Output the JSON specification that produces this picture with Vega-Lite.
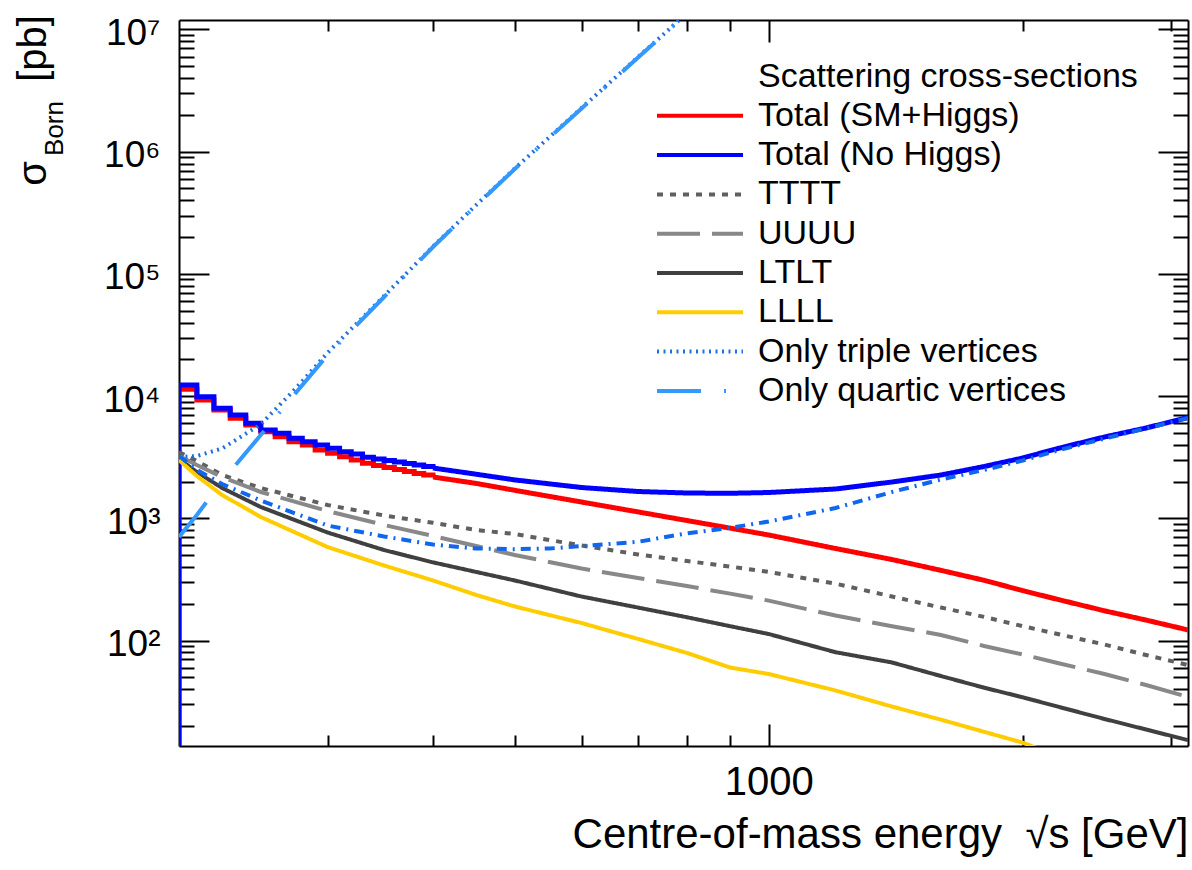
{
  "$schema": "https://vega.github.io/schema/vega-lite/v6.json",
  "width": 1009,
  "height": 726,
  "autosize": {"type": "none"},
  "padding": {"left": 179, "top": 20, "right": 4, "bottom": 124},
  "background": "white",
  "config": {
    "view": {"stroke": null},
    "font": "Liberation Sans",
    "axis": {"grid": false, "domainColor": "black", "domainWidth": 2, "tickColor": "black", "tickWidth": 2, "labelColor": "black", "titleColor": "black", "labelFont": "Liberation Sans", "titleFont": "Liberation Sans", "titleFontWeight": "normal", "labelFlush": false, "labelOverlap": false, "labelBound": false}
  },
  "datasets": {
    "steps": [
      {"series": "Total (SM+Higgs)", "E": 200, "sigma": 1},
      {"series": "Total (SM+Higgs)", "E": 200, "sigma": 11365},
      {"series": "Total (SM+Higgs)", "E": 210, "sigma": 9292},
      {"series": "Total (SM+Higgs)", "E": 220, "sigma": 7696},
      {"series": "Total (SM+Higgs)", "E": 230, "sigma": 6580},
      {"series": "Total (SM+Higgs)", "E": 240, "sigma": 5800},
      {"series": "Total (SM+Higgs)", "E": 250, "sigma": 5112},
      {"series": "Total (SM+Higgs)", "E": 260, "sigma": 4653},
      {"series": "Total (SM+Higgs)", "E": 270, "sigma": 4234},
      {"series": "Total (SM+Higgs)", "E": 280, "sigma": 3979},
      {"series": "Total (SM+Higgs)", "E": 290, "sigma": 3622},
      {"series": "Total (SM+Higgs)", "E": 300, "sigma": 3403},
      {"series": "Total (SM+Higgs)", "E": 310, "sigma": 3192},
      {"series": "Total (SM+Higgs)", "E": 320, "sigma": 3000},
      {"series": "Total (SM+Higgs)", "E": 330, "sigma": 2819},
      {"series": "Total (SM+Higgs)", "E": 340, "sigma": 2705},
      {"series": "Total (SM+Higgs)", "E": 350, "sigma": 2604},
      {"series": "Total (SM+Higgs)", "E": 360, "sigma": 2508},
      {"series": "Total (SM+Higgs)", "E": 370, "sigma": 2415},
      {"series": "Total (SM+Higgs)", "E": 380, "sigma": 2326},
      {"series": "Total (SM+Higgs)", "E": 390, "sigma": 2261},
      {"series": "Total (SM+Higgs)", "E": 400, "sigma": 2178},
      {"series": "Total (No Higgs)", "E": 200, "sigma": 1},
      {"series": "Total (No Higgs)", "E": 200, "sigma": 12324},
      {"series": "Total (No Higgs)", "E": 210, "sigma": 9888},
      {"series": "Total (No Higgs)", "E": 220, "sigma": 7946},
      {"series": "Total (No Higgs)", "E": 230, "sigma": 7004},
      {"series": "Total (No Higgs)", "E": 240, "sigma": 5989},
      {"series": "Total (No Higgs)", "E": 250, "sigma": 5280},
      {"series": "Total (No Higgs)", "E": 260, "sigma": 4961},
      {"series": "Total (No Higgs)", "E": 270, "sigma": 4515},
      {"series": "Total (No Higgs)", "E": 280, "sigma": 4234},
      {"series": "Total (No Higgs)", "E": 290, "sigma": 3979},
      {"series": "Total (No Higgs)", "E": 300, "sigma": 3740},
      {"series": "Total (No Higgs)", "E": 310, "sigma": 3508},
      {"series": "Total (No Higgs)", "E": 320, "sigma": 3359},
      {"series": "Total (No Higgs)", "E": 330, "sigma": 3157},
      {"series": "Total (No Higgs)", "E": 340, "sigma": 3057},
      {"series": "Total (No Higgs)", "E": 350, "sigma": 2972},
      {"series": "Total (No Higgs)", "E": 360, "sigma": 2888},
      {"series": "Total (No Higgs)", "E": 370, "sigma": 2808},
      {"series": "Total (No Higgs)", "E": 380, "sigma": 2731},
      {"series": "Total (No Higgs)", "E": 390, "sigma": 2654},
      {"series": "Total (No Higgs)", "E": 400, "sigma": 2580}
    ],
    "tails": [
      {"series": "Total (SM+Higgs)", "E": 400, "sigma": 2178},
      {"series": "Total (SM+Higgs)", "E": 450, "sigma": 1930},
      {"series": "Total (SM+Higgs)", "E": 500, "sigma": 1695},
      {"series": "Total (SM+Higgs)", "E": 600, "sigma": 1359},
      {"series": "Total (SM+Higgs)", "E": 700, "sigma": 1128},
      {"series": "Total (SM+Higgs)", "E": 800, "sigma": 959},
      {"series": "Total (SM+Higgs)", "E": 900, "sigma": 831},
      {"series": "Total (SM+Higgs)", "E": 1000, "sigma": 730},
      {"series": "Total (SM+Higgs)", "E": 1200, "sigma": 566},
      {"series": "Total (SM+Higgs)", "E": 1400, "sigma": 460},
      {"series": "Total (SM+Higgs)", "E": 1600, "sigma": 375},
      {"series": "Total (SM+Higgs)", "E": 1800, "sigma": 311},
      {"series": "Total (SM+Higgs)", "E": 2000, "sigma": 256},
      {"series": "Total (SM+Higgs)", "E": 2200, "sigma": 217},
      {"series": "Total (SM+Higgs)", "E": 2500, "sigma": 175},
      {"series": "Total (SM+Higgs)", "E": 2800, "sigma": 147},
      {"series": "Total (SM+Higgs)", "E": 3140, "sigma": 122},
      {"series": "Total (No Higgs)", "E": 400, "sigma": 2580},
      {"series": "Total (No Higgs)", "E": 450, "sigma": 2295},
      {"series": "Total (No Higgs)", "E": 500, "sigma": 2062},
      {"series": "Total (No Higgs)", "E": 600, "sigma": 1786},
      {"series": "Total (No Higgs)", "E": 700, "sigma": 1657},
      {"series": "Total (No Higgs)", "E": 800, "sigma": 1611},
      {"series": "Total (No Higgs)", "E": 900, "sigma": 1602},
      {"series": "Total (No Higgs)", "E": 1000, "sigma": 1626},
      {"series": "Total (No Higgs)", "E": 1200, "sigma": 1737},
      {"series": "Total (No Higgs)", "E": 1400, "sigma": 1982},
      {"series": "Total (No Higgs)", "E": 1600, "sigma": 2261},
      {"series": "Total (No Higgs)", "E": 1800, "sigma": 2654},
      {"series": "Total (No Higgs)", "E": 2000, "sigma": 3115},
      {"series": "Total (No Higgs)", "E": 2200, "sigma": 3726},
      {"series": "Total (No Higgs)", "E": 2500, "sigma": 4627},
      {"series": "Total (No Higgs)", "E": 2800, "sigma": 5483},
      {"series": "Total (No Higgs)", "E": 3140, "sigma": 6681}
    ],
    "curves": [
      {"series": "TTTT", "E": 200, "sigma": 3488},
      {"series": "TTTT", "E": 210, "sigma": 2943},
      {"series": "TTTT", "E": 225, "sigma": 2261},
      {"series": "TTTT", "E": 250, "sigma": 1770},
      {"series": "TTTT", "E": 300, "sigma": 1285},
      {"series": "TTTT", "E": 350, "sigma": 1054},
      {"series": "TTTT", "E": 400, "sigma": 919},
      {"series": "TTTT", "E": 450, "sigma": 802},
      {"series": "TTTT", "E": 500, "sigma": 744},
      {"series": "TTTT", "E": 600, "sigma": 599},
      {"series": "TTTT", "E": 700, "sigma": 506},
      {"series": "TTTT", "E": 800, "sigma": 447},
      {"series": "TTTT", "E": 900, "sigma": 403},
      {"series": "TTTT", "E": 1000, "sigma": 364},
      {"series": "TTTT", "E": 1200, "sigma": 292},
      {"series": "TTTT", "E": 1400, "sigma": 229},
      {"series": "TTTT", "E": 1600, "sigma": 186},
      {"series": "TTTT", "E": 1800, "sigma": 156},
      {"series": "TTTT", "E": 2000, "sigma": 131},
      {"series": "TTTT", "E": 2200, "sigma": 113},
      {"series": "TTTT", "E": 2500, "sigma": 92.7},
      {"series": "TTTT", "E": 2800, "sigma": 76.1},
      {"series": "TTTT", "E": 3140, "sigma": 63},
      {"series": "UUUU", "E": 200, "sigma": 3235},
      {"series": "UUUU", "E": 210, "sigma": 2731},
      {"series": "UUUU", "E": 225, "sigma": 2178},
      {"series": "UUUU", "E": 250, "sigma": 1642},
      {"series": "UUUU", "E": 300, "sigma": 1147},
      {"series": "UUUU", "E": 350, "sigma": 882},
      {"series": "UUUU", "E": 400, "sigma": 717},
      {"series": "UUUU", "E": 450, "sigma": 593},
      {"series": "UUUU", "E": 500, "sigma": 501},
      {"series": "UUUU", "E": 600, "sigma": 388},
      {"series": "UUUU", "E": 700, "sigma": 325},
      {"series": "UUUU", "E": 800, "sigma": 279},
      {"series": "UUUU", "E": 900, "sigma": 242},
      {"series": "UUUU", "E": 1000, "sigma": 212},
      {"series": "UUUU", "E": 1200, "sigma": 160},
      {"series": "UUUU", "E": 1400, "sigma": 131},
      {"series": "UUUU", "E": 1600, "sigma": 111},
      {"series": "UUUU", "E": 1800, "sigma": 90.2},
      {"series": "UUUU", "E": 2000, "sigma": 76.8},
      {"series": "UUUU", "E": 2200, "sigma": 65.4},
      {"series": "UUUU", "E": 2500, "sigma": 53.2},
      {"series": "UUUU", "E": 2800, "sigma": 43.2},
      {"series": "UUUU", "E": 3140, "sigma": 34.5},
      {"series": "LTLT", "E": 200, "sigma": 3057},
      {"series": "LTLT", "E": 210, "sigma": 2392},
      {"series": "LTLT", "E": 225, "sigma": 1770},
      {"series": "LTLT", "E": 250, "sigma": 1237},
      {"series": "LTLT", "E": 300, "sigma": 765},
      {"series": "LTLT", "E": 350, "sigma": 550},
      {"series": "LTLT", "E": 400, "sigma": 436},
      {"series": "LTLT", "E": 450, "sigma": 364},
      {"series": "LTLT", "E": 500, "sigma": 310},
      {"series": "LTLT", "E": 600, "sigma": 229},
      {"series": "LTLT", "E": 700, "sigma": 186},
      {"series": "LTLT", "E": 800, "sigma": 155},
      {"series": "LTLT", "E": 900, "sigma": 131},
      {"series": "LTLT", "E": 1000, "sigma": 113},
      {"series": "LTLT", "E": 1200, "sigma": 80.2},
      {"series": "LTLT", "E": 1400, "sigma": 66.1},
      {"series": "LTLT", "E": 1600, "sigma": 51.2},
      {"series": "LTLT", "E": 1800, "sigma": 41.1},
      {"series": "LTLT", "E": 2000, "sigma": 34.3},
      {"series": "LTLT", "E": 2200, "sigma": 28.8},
      {"series": "LTLT", "E": 2500, "sigma": 22.8},
      {"series": "LTLT", "E": 2800, "sigma": 18.7},
      {"series": "LTLT", "E": 3140, "sigma": 15.3},
      {"series": "LLLL", "E": 200, "sigma": 3000},
      {"series": "LLLL", "E": 210, "sigma": 2219},
      {"series": "LLLL", "E": 225, "sigma": 1551},
      {"series": "LLLL", "E": 250, "sigma": 1025},
      {"series": "LLLL", "E": 300, "sigma": 582},
      {"series": "LLLL", "E": 350, "sigma": 411},
      {"series": "LLLL", "E": 400, "sigma": 310},
      {"series": "LLLL", "E": 450, "sigma": 236},
      {"series": "LLLL", "E": 500, "sigma": 190},
      {"series": "LLLL", "E": 600, "sigma": 139},
      {"series": "LLLL", "E": 700, "sigma": 103},
      {"series": "LLLL", "E": 800, "sigma": 79.1},
      {"series": "LLLL", "E": 900, "sigma": 60.1},
      {"series": "LLLL", "E": 1000, "sigma": 53.2},
      {"series": "LLLL", "E": 1200, "sigma": 39.0},
      {"series": "LLLL", "E": 1400, "sigma": 28.8},
      {"series": "LLLL", "E": 1600, "sigma": 22.5},
      {"series": "LLLL", "E": 1800, "sigma": 17.9},
      {"series": "LLLL", "E": 2000, "sigma": 14.6},
      {"series": "LLLL", "E": 2200, "sigma": 11.3},
      {"series": "Only triple vertices", "E": 200, "sigma": 3174},
      {"series": "Only triple vertices", "E": 210, "sigma": 3235},
      {"series": "Only triple vertices", "E": 225, "sigma": 3726},
      {"series": "Only triple vertices", "E": 250, "sigma": 5877},
      {"series": "Only triple vertices", "E": 275, "sigma": 11540},
      {"series": "Only triple vertices", "E": 300, "sigma": 22620},
      {"series": "Only triple vertices", "E": 350, "sigma": 65940},
      {"series": "Only triple vertices", "E": 400, "sigma": 167600},
      {"series": "Only triple vertices", "E": 450, "sigma": 366200},
      {"series": "Only triple vertices", "E": 500, "sigma": 728700},
      {"series": "Only triple vertices", "E": 600, "sigma": 2278000},
      {"series": "Only triple vertices", "E": 700, "sigma": 5957000},
      {"series": "Only triple vertices", "E": 750, "sigma": 9101000},
      {"series": "Only triple vertices", "E": 800, "sigma": 13650000},
      {"series": "Only quartic vertices", "E": 200, "sigma": 703},
      {"series": "Only quartic vertices", "E": 210, "sigma": 1064},
      {"series": "Only quartic vertices", "E": 225, "sigma": 2020},
      {"series": "Only quartic vertices", "E": 250, "sigma": 4805},
      {"series": "Only quartic vertices", "E": 275, "sigma": 10600},
      {"series": "Only quartic vertices", "E": 300, "sigma": 21700},
      {"series": "Only quartic vertices", "E": 350, "sigma": 64710},
      {"series": "Only quartic vertices", "E": 400, "sigma": 166000},
      {"series": "Only quartic vertices", "E": 450, "sigma": 362800},
      {"series": "Only quartic vertices", "E": 500, "sigma": 721800},
      {"series": "Only quartic vertices", "E": 600, "sigma": 2257000},
      {"series": "Only quartic vertices", "E": 700, "sigma": 5902000},
      {"series": "Only quartic vertices", "E": 750, "sigma": 9016000},
      {"series": "Only quartic vertices", "E": 800, "sigma": 13520000}
    ],
    "dashdot": [
      {"E": 200, "sigma": 3235},
      {"E": 210, "sigma": 2485},
      {"E": 225, "sigma": 1909},
      {"E": 250, "sigma": 1399},
      {"E": 300, "sigma": 873},
      {"E": 350, "sigma": 710},
      {"E": 400, "sigma": 610},
      {"E": 450, "sigma": 566},
      {"E": 500, "sigma": 559},
      {"E": 550, "sigma": 566},
      {"E": 600, "sigma": 593},
      {"E": 700, "sigma": 642},
      {"E": 800, "sigma": 754},
      {"E": 900, "sigma": 836},
      {"E": 1000, "sigma": 941},
      {"E": 1200, "sigma": 1214},
      {"E": 1400, "sigma": 1642},
      {"E": 1600, "sigma": 2077},
      {"E": 1800, "sigma": 2485},
      {"E": 2000, "sigma": 2972},
      {"E": 2200, "sigma": 3587},
      {"E": 2500, "sigma": 4498},
      {"E": 2800, "sigma": 5431},
      {"E": 3140, "sigma": 6618}
    ]
  },
  "resolve": {"axis": {"x": "independent", "y": "independent"}},
  "layer": [
    {
      "data": {"name": "steps"},
      "mark": {"type": "line", "interpolate": "step-after", "strokeWidth": 5, "clip": true, "strokeJoin": "miter"},
      "encoding": {
        "x": {"field": "E", "type": "quantitative", "scale": {"type": "log", "domain": [200, 3140], "nice": false},
          "axis": {"orient": "bottom", "values": [1000], "format": "d", "tickSize": -22, "labelPadding": 70, "labelBaseline": "alphabetic", "labelFontSize": 40, "domain": true,
            "title": "Centre-of-mass energy\u00a0 √s [GeV]", "titleFontSize": 42, "titleX": 1009, "titleY": 101, "titleAlign": "right", "titleBaseline": "alphabetic", "titleAngle": 0}},
        "y": {"field": "sigma", "type": "quantitative", "scale": {"type": "log", "domain": [13.7, 11960000], "nice": false},
          "axis": {"orient": "left", "values": [100, 1000, 10000, 100000, 1000000, 10000000], "tickSize": -30, "labelPadding": 49, "labelFontSize": 37, "labelBaseline": "middle", "labelOffset": 4,
            "labelExpr": "'10' + ['','','²','³','⁴','⁵','⁶','⁷'][round(log(datum.value)/LN10)]", "domain": true,
            "title": "σ", "titleFontSize": 40, "titleAngle": 270, "titleX": -134, "titleY": 153, "titleAlign": "center", "titleBaseline": "alphabetic"}},
        "color": {"field": "series", "type": "nominal",
          "scale": {"domain": ["Scattering cross-sections", "Total (SM+Higgs)", "Total (No Higgs)", "TTTT", "UUUU", "LTLT", "LLLL", "Only triple vertices", "Only quartic vertices"],
                    "range": ["transparent", "#ff0000", "#0000ff", "#606060", "#888888", "#404040", "#ffcc00", "#1f6fe0", "#3399ff"]},
          "legend": {"title": null, "orient": "none", "legendX": 476, "legendY": 38, "direction": "vertical", "symbolType": "stroke", "symbolSize": 7396, "symbolStrokeWidth": 4, "clipHeight": 37, "rowPadding": 2.3, "labelFont": "Liberation Sans", "labelFontSize": 34, "labelColor": "black", "labelOffset": 13, "symbolOffset": 0, "labelLimit": 0, "padding": 0, "offset": 0}},
        "strokeDash": {"field": "series", "type": "nominal",
          "scale": {"domain": ["Scattering cross-sections", "Total (SM+Higgs)", "Total (No Higgs)", "TTTT", "UUUU", "LTLT", "LLLL", "Only triple vertices", "Only quartic vertices"],
                    "range": [[0, 1000], [1, 0], [1, 0], [6, 7], [43, 12], [1, 0], [1, 0], [2, 4.5], [44, 23, 2, 23]]},
          "legend": {"title": null, "orient": "none", "legendX": 476, "legendY": 38, "direction": "vertical", "symbolType": "stroke", "symbolSize": 7396, "symbolStrokeWidth": 4, "clipHeight": 37, "rowPadding": 2.3, "labelFont": "Liberation Sans", "labelFontSize": 34, "labelColor": "black", "labelOffset": 13, "symbolOffset": 0, "labelLimit": 0, "padding": 0, "offset": 0}}
      }
    },
    {
      "data": {"name": "tails"},
      "mark": {"type": "line", "strokeWidth": 5, "clip": true},
      "encoding": {
        "x": {"field": "E", "type": "quantitative", "scale": {"type": "log", "domain": [200, 3140], "nice": false},
          "axis": {"orient": "bottom", "values": [300, 400, 500, 600, 700, 800, 900, 2000, 3000], "tickSize": -11, "labels": false, "domain": false, "title": null}},
        "y": {"field": "sigma", "type": "quantitative", "scale": {"type": "log", "domain": [13.7, 11960000], "nice": false},
          "axis": {"orient": "left", "values": [20, 30, 40, 50, 60, 70, 80, 90, 200, 300, 400, 500, 600, 700, 800, 900, 2000, 3000, 4000, 5000, 6000, 7000, 8000, 9000, 20000, 30000, 40000, 50000, 60000, 70000, 80000, 90000, 200000, 300000, 400000, 500000, 600000, 700000, 800000, 900000, 2000000, 3000000, 4000000, 5000000, 6000000, 7000000, 8000000, 9000000],
            "tickSize": -15, "labels": false, "domain": false,
            "title": "Born", "titleFontSize": 26, "titleAngle": 270, "titleX": -117, "titleY": 108, "titleAlign": "center", "titleBaseline": "alphabetic"}},
        "color": {"field": "series", "type": "nominal",
          "scale": {"domain": ["Scattering cross-sections", "Total (SM+Higgs)", "Total (No Higgs)", "TTTT", "UUUU", "LTLT", "LLLL", "Only triple vertices", "Only quartic vertices"],
                    "range": ["transparent", "#ff0000", "#0000ff", "#606060", "#888888", "#404040", "#ffcc00", "#1f6fe0", "#3399ff"]},
          "legend": {"title": null, "orient": "none", "legendX": 476, "legendY": 38, "direction": "vertical", "symbolType": "stroke", "symbolSize": 7396, "symbolStrokeWidth": 4, "clipHeight": 37, "rowPadding": 2.3, "labelFont": "Liberation Sans", "labelFontSize": 34, "labelColor": "black", "labelOffset": 13, "symbolOffset": 0, "labelLimit": 0, "padding": 0, "offset": 0}},
        "strokeDash": {"field": "series", "type": "nominal",
          "scale": {"domain": ["Scattering cross-sections", "Total (SM+Higgs)", "Total (No Higgs)", "TTTT", "UUUU", "LTLT", "LLLL", "Only triple vertices", "Only quartic vertices"],
                    "range": [[0, 1000], [1, 0], [1, 0], [6, 7], [43, 12], [1, 0], [1, 0], [2, 4.5], [44, 23, 2, 23]]},
          "legend": {"title": null, "orient": "none", "legendX": 476, "legendY": 38, "direction": "vertical", "symbolType": "stroke", "symbolSize": 7396, "symbolStrokeWidth": 4, "clipHeight": 37, "rowPadding": 2.3, "labelFont": "Liberation Sans", "labelFontSize": 34, "labelColor": "black", "labelOffset": 13, "symbolOffset": 0, "labelLimit": 0, "padding": 0, "offset": 0}}
      }
    },
    {
      "data": {"name": "curves"},
      "mark": {"type": "line", "strokeWidth": 4, "clip": true},
      "encoding": {
        "x": {"field": "E", "type": "quantitative", "scale": {"type": "log", "domain": [200, 3140], "nice": false},
          "axis": {"orient": "top", "values": [1000], "tickSize": -22, "labels": false, "domain": true, "title": null}},
        "y": {"field": "sigma", "type": "quantitative", "scale": {"type": "log", "domain": [13.7, 11960000], "nice": false},
          "axis": {"orient": "right", "values": [100, 1000, 10000, 100000, 1000000, 10000000], "tickSize": -30, "labels": false, "domain": true,
            "title": "[pb]", "titleFontSize": 40, "titleAngle": 270, "titleX": -1143, "titleY": 28, "titleAlign": "center", "titleBaseline": "alphabetic"}},
        "color": {"field": "series", "type": "nominal",
          "scale": {"domain": ["Scattering cross-sections", "Total (SM+Higgs)", "Total (No Higgs)", "TTTT", "UUUU", "LTLT", "LLLL", "Only triple vertices", "Only quartic vertices"],
                    "range": ["transparent", "#ff0000", "#0000ff", "#606060", "#888888", "#404040", "#ffcc00", "#1f6fe0", "#3399ff"]},
          "legend": {"title": null, "orient": "none", "legendX": 476, "legendY": 38, "direction": "vertical", "symbolType": "stroke", "symbolSize": 7396, "symbolStrokeWidth": 4, "clipHeight": 37, "rowPadding": 2.3, "labelFont": "Liberation Sans", "labelFontSize": 34, "labelColor": "black", "labelOffset": 13, "symbolOffset": 0, "labelLimit": 0, "padding": 0, "offset": 0}},
        "strokeDash": {"field": "series", "type": "nominal",
          "scale": {"domain": ["Scattering cross-sections", "Total (SM+Higgs)", "Total (No Higgs)", "TTTT", "UUUU", "LTLT", "LLLL", "Only triple vertices", "Only quartic vertices"],
                    "range": [[0, 1000], [1, 0], [1, 0], [6, 7], [43, 12], [1, 0], [1, 0], [2, 4.5], [44, 23, 2, 23]]},
          "legend": {"title": null, "orient": "none", "legendX": 476, "legendY": 38, "direction": "vertical", "symbolType": "stroke", "symbolSize": 7396, "symbolStrokeWidth": 4, "clipHeight": 37, "rowPadding": 2.3, "labelFont": "Liberation Sans", "labelFontSize": 34, "labelColor": "black", "labelOffset": 13, "symbolOffset": 0, "labelLimit": 0, "padding": 0, "offset": 0}}
      }
    },
    {
      "data": {"name": "dashdot"},
      "mark": {"type": "line", "strokeWidth": 4, "clip": true, "color": "#1166ee", "strokeDash": [10, 6, 2, 6]},
      "encoding": {
        "x": {"field": "E", "type": "quantitative", "scale": {"type": "log", "domain": [200, 3140], "nice": false},
          "axis": {"orient": "top", "values": [300, 400, 500, 600, 700, 800, 900, 2000, 3000], "tickSize": -11, "labels": false, "domain": false, "title": null}},
        "y": {"field": "sigma", "type": "quantitative", "scale": {"type": "log", "domain": [13.7, 11960000], "nice": false},
          "axis": {"orient": "right", "values": [20, 30, 40, 50, 60, 70, 80, 90, 200, 300, 400, 500, 600, 700, 800, 900, 2000, 3000, 4000, 5000, 6000, 7000, 8000, 9000, 20000, 30000, 40000, 50000, 60000, 70000, 80000, 90000, 200000, 300000, 400000, 500000, 600000, 700000, 800000, 900000, 2000000, 3000000, 4000000, 5000000, 6000000, 7000000, 8000000, 9000000],
            "tickSize": -15, "labels": false, "domain": false, "title": null}}
      }
    }
  ]
}
